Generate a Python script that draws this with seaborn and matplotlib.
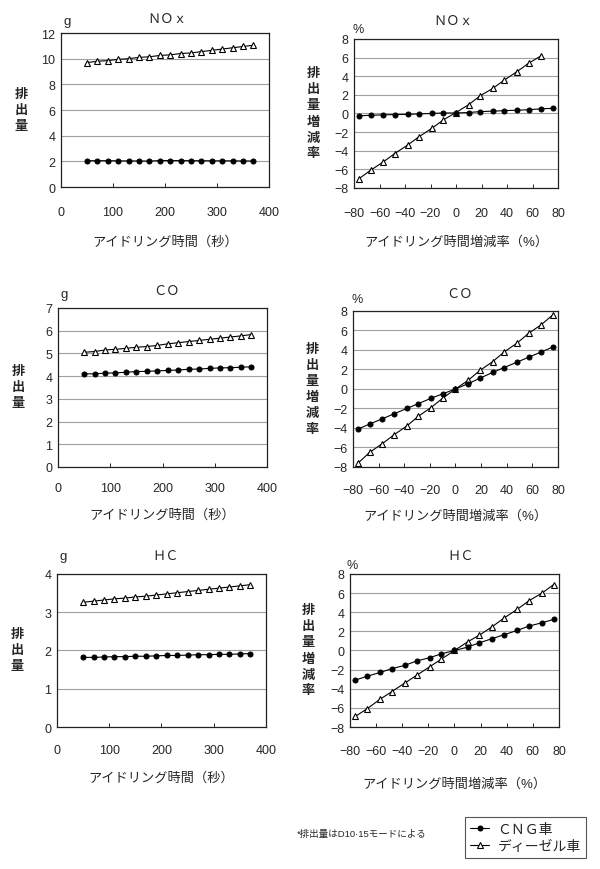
import matplotlib
matplotlib.use("Agg")
import matplotlib.pyplot as plt
import seaborn as sns

sns.set_style("white")
plt.rcParams['font.family'] = ['Liberation Sans', 'Noto Sans CJK JP', 'DejaVu Sans']
plt.rcParams['axes.unicode_minus'] = True

# アイドリング時間（秒）
idle_sec = [50, 70, 90, 110, 130, 150, 170, 190, 210, 230, 250, 270, 290, 310, 330, 350, 370]
# アイドリング時間増減率（%）
idle_pct = [-76, -67, -57, -48, -38, -29, -19, -10, 0, 10, 19, 29, 38, 48, 57, 67, 76]

# NOx 排出量 (g)
nox_cng = [2.05, 2.05, 2.05, 2.04, 2.03, 2.03, 2.02, 2.06, 2.06, 2.06, 2.05, 2.05, 2.04, 2.04, 2.04, 2.03, 2.03]
nox_dsl = [9.7, 9.8, 9.85, 9.95, 10.0, 10.1, 10.15, 10.25, 10.3, 10.4, 10.45, 10.55, 10.65, 10.75, 10.85, 10.95, 11.05]
# NOx 増減率 (%)
nox_cng_pct = [-0.25, -0.2, -0.15, -0.12, -0.1, -0.05, 0.0, 0.05, 0.05, 0.1, 0.2, 0.25, 0.3, 0.35, 0.4, 0.5, 0.55]
nox_dsl_pct = [-7.0, -6.1, -5.2, -4.3, -3.4, -2.5, -1.6, -0.7, 0.1, 0.95, 1.9, 2.7, 3.6, 4.5, 5.4, 6.2]

# CO
co_cng = [4.1, 4.1, 4.13, 4.14, 4.17, 4.2, 4.21, 4.23, 4.25, 4.27, 4.3, 4.31, 4.34, 4.36, 4.37, 4.39, 4.41]
co_dsl = [5.05, 5.08, 5.15, 5.18, 5.22, 5.27, 5.3, 5.35, 5.42, 5.47, 5.52, 5.57, 5.62, 5.67, 5.72, 5.77, 5.83]
co_cng_pct = [-4.1, -3.6, -3.05, -2.55, -2.0, -1.5, -0.95, -0.5, 0.0, 0.55, 1.1, 1.7, 2.2, 2.75, 3.25, 3.8, 4.3]
co_dsl_pct = [-7.6, -6.5, -5.6, -4.7, -3.8, -2.8, -1.9, -0.95, 0.0, 0.9, 1.9, 2.8, 3.8, 4.7, 5.7, 6.6, 7.6]

# HC
hc_cng = [1.82, 1.82, 1.83, 1.84, 1.84, 1.85, 1.85, 1.86, 1.87, 1.87, 1.88, 1.89, 1.89, 1.9, 1.9, 1.91, 1.92]
hc_dsl = [3.26, 3.29, 3.32, 3.35, 3.37, 3.40, 3.42, 3.45, 3.48, 3.51, 3.54, 3.57, 3.60, 3.63, 3.66, 3.69, 3.72]
hc_cng_pct = [-3.1, -2.7, -2.3, -1.9, -1.55, -1.1, -0.75, -0.35, 0.0, 0.35, 0.8, 1.25, 1.65, 2.1, 2.55, 2.9, 3.25]
hc_dsl_pct = [-6.9, -6.1, -5.1, -4.3, -3.4, -2.6, -1.7, -0.9, 0.0, 0.9, 1.6, 2.5, 3.4, 4.3, 5.2, 6.0, 6.9]

titles = ['ＮＯｘ', 'ＣＯ', 'ＨＣ']
left_ylim = [(0, 12, 2), (0, 7, 1), (0, 4, 1)]
xlabel_sec = 'アイドリング時間（秒）'
xlabel_pct = 'アイドリング時間増減率（%）'
ylabel_left = '排出量'
ylabel_right = '排出量増減率'
legend_labels = ['ＣＮＧ車', 'ディーゼル車']
footnote = '*排出量はD10·15モードによる'

fig = plt.figure(figsize=(6, 8.7), dpi=100)

# axes boxes [left, bottom, width, height] in figure fraction
boxes = [
    ([0.1017, 0.7839, 0.3467, 0.1770], [0.590, 0.7828, 0.340, 0.1713]),
    ([0.0967, 0.4621, 0.3483, 0.1828], [0.5883, 0.4621, 0.3417, 0.1793]),
    ([0.0950, 0.1632, 0.3483, 0.1759], [0.5833, 0.1632, 0.3483, 0.1759]),
]
title_pos = [((0.51, 1.09), (0.485, 1.12)), ((0.52, 1.107), (0.52, 1.11)), ((0.52, 1.12), (0.53, 1.12))]
unit_pos = [((0.03, 1.08), (0.02, 1.07)), ((0.03, 1.09), (0.02, 1.08)), ((0.03, 1.12), (0.01, 1.06))]
xlab_y = [(-0.31, -0.32), (-0.26, -0.27), (-0.29, -0.33)]
tick_pad = [(14, 14), (11, 12), (12, 13)]

series = [
    (nox_cng, nox_dsl, nox_cng_pct, nox_dsl_pct),
    (co_cng, co_dsl, co_cng_pct, co_dsl_pct),
    (hc_cng, hc_dsl, hc_cng_pct, hc_dsl_pct),
]

cng_kw = dict(color='black', linewidth=0.8, marker='o', markersize=3.6,
              markerfacecolor='black', markeredgecolor='black')
dsl_kw = dict(color='black', linewidth=0.8, marker='^', markersize=4.6,
              markerfacecolor='white', markeredgecolor='black', markeredgewidth=0.8)


def style_axis(ax, pad):
    for s in ax.spines.values():
        s.set_visible(True)
        s.set_color('#222222')
        s.set_linewidth(0.9)
    ax.yaxis.grid(True, color='#a0a0a0', linewidth=0.8)
    ax.xaxis.grid(False)
    ax.tick_params(axis='x', direction='in', length=3, width=0.7, pad=pad, labelsize=9, bottom=True)
    ax.tick_params(axis='y', direction='in', length=0, pad=4, labelsize=9, left=True)


def step_frac(ax):
    # 16 px per character row
    h = ax.get_position().height * fig.get_figheight() * fig.dpi
    return 16 / h


def stacked_label(ax, text, x):
    # vertical label: one character per row
    n = len(text)
    st = step_frac(ax)
    for i, ch in enumerate(text):
        y = 0.5 + (n - 1) / 2 * st - i * st
        ax.text(x, y, ch, transform=ax.transAxes, ha='center', va='center',
                fontsize=9.5, fontweight='bold')


for r in range(3):
    cng, dsl, cng_p, dsl_p = series[r]
    # left: emission amount
    ax = fig.add_axes(boxes[r][0])
    sns.lineplot(x=idle_sec, y=dsl, ax=ax, label=legend_labels[1], **dsl_kw)
    sns.lineplot(x=idle_sec, y=cng, ax=ax, label=legend_labels[0], **cng_kw)
    lo, hi, st = left_ylim[r]
    ax.set_xlim(0, 400)
    ax.set_ylim(lo, hi)
    ax.set_xticks([0, 100, 200, 300, 400])
    ax.set_yticks(list(range(lo, hi + 1, st)))
    style_axis(ax, tick_pad[r][0])
    ax.get_legend().remove()
    ax.text(*title_pos[r][0], titles[r], transform=ax.transAxes, ha='center', va='center', fontsize=9.5)
    ax.text(*unit_pos[r][0], 'g', transform=ax.transAxes, ha='center', va='center', fontsize=9.5)
    ax.set_xlabel(xlabel_sec, fontsize=9.5)
    ax.xaxis.set_label_coords(0.5, xlab_y[r][0])
    ax.set_ylabel('')
    stacked_label(ax, ylabel_left, -0.19)
    if r == 0:
        handles, labels = ax.get_legend_handles_labels()

    # right: change rate
    ax = fig.add_axes(boxes[r][1])
    sns.lineplot(x=idle_pct[:len(dsl_p)], y=dsl_p, ax=ax, **dsl_kw)
    sns.lineplot(x=idle_pct, y=cng_p, ax=ax, **cng_kw)
    ax.set_xlim(-80, 80)
    ax.set_ylim(-8, 8)
    ax.set_xticks(list(range(-80, 81, 20)))
    ax.set_yticks(list(range(-8, 9, 2)))
    style_axis(ax, tick_pad[r][1])
    ax.text(*title_pos[r][1], titles[r], transform=ax.transAxes, ha='center', va='center', fontsize=9.5)
    ax.text(*unit_pos[r][1], '%', transform=ax.transAxes, ha='center', va='center', fontsize=9)
    ax.set_xlabel(xlabel_pct, fontsize=9.5)
    ax.xaxis.set_label_coords(0.5, xlab_y[r][1])
    ax.set_ylabel('')
    stacked_label(ax, ylabel_right, -0.2)

leg = fig.legend(handles[::-1], labels[::-1], loc='upper left', bbox_to_anchor=(458 / 600, 1 - 811 / 870),
                 fontsize=10, handlelength=1.4, handletextpad=0.6, labelspacing=0.25,
                 borderpad=0.35, fancybox=False, framealpha=1)
leg.get_frame().set_edgecolor('#555555')
leg.get_frame().set_linewidth(0.8)

fig.text(297 / 600, 1 - 835 / 870, footnote, fontsize=6.8, ha='left', va='center')

fig.savefig('out.png', dpi=100, facecolor='white')
